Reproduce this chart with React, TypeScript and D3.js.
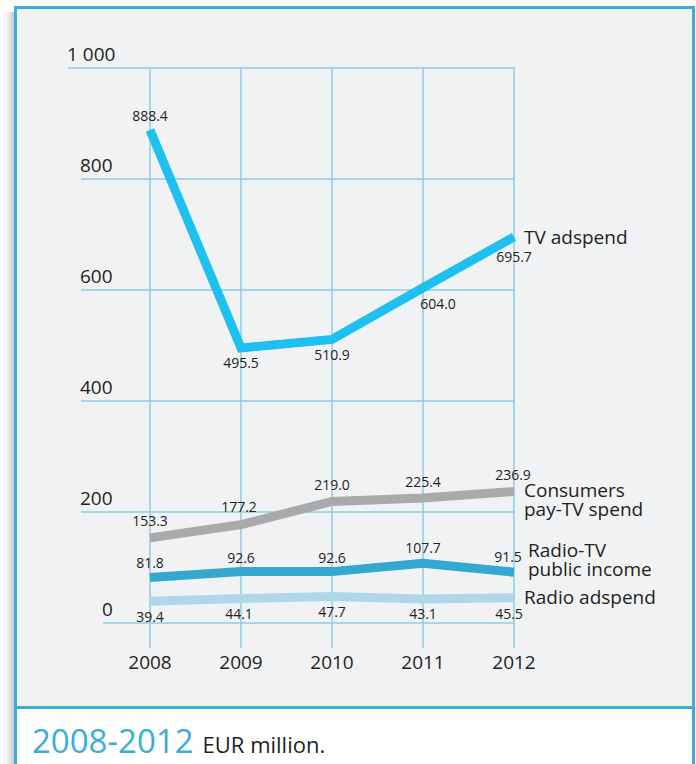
import React from "react";
import * as d3 from "d3";

const years = ["2008", "2009", "2010", "2011", "2012"];
const tvAdspend = [888.4, 495.5, 510.9, 604.0, 695.7];
const payTvSpend = [153.3, 177.2, 219.0, 225.4, 236.9];
const publicIncome = [81.8, 92.6, 92.6, 107.7, 91.5];
const radioAdspend = [39.4, 44.1, 47.7, 43.1, 45.5];
const yTicks = [0, 200, 400, 600, 800, 1000];
const yTickLabels = ["0", "200", "400", "600", "800", "1 000"];

// label offsets (dx, dy) relative to each point — styling only
const tvOffsets = [[0, -9], [0, 20], [0, 21], [15, 21], [0, 25]];
const payOffsets = [[0, -12], [-2, -13], [0, -11], [0, -11], [-1, -12]];
const pubOffsets = [[0, -10], [0, -9], [0, -9], [0, -10], [-6, -10]];
const radOffsets = [[0, 21], [-2, 20], [0, 20], [0, 20], [-5, 21]];

const FONT = "'Open Sans', sans-serif";
const TEXT = "#231f20";
const GRID = "#8fcbe3";
const BORDER = "#3aaed6";

export default function App() {
  const W = 696, H = 764;
  const x = d3.scalePoint<string>().domain(years).range([150, 514]);
  const y = d3.scaleLinear().domain([0, 1000]).range([623, 68]);
  const line = d3.line<number>().x((_, i) => x(years[i])!).y((v) => y(v));

  const series = [
    { name: "radio", values: radioAdspend, color: "#aed8ea", offsets: radOffsets },
    { name: "public", values: publicIncome, color: "#35a8d0", offsets: pubOffsets },
    { name: "pay", values: payTvSpend, color: "#a9aaac", offsets: payOffsets },
    { name: "tv", values: tvAdspend, color: "#1ec0f0", offsets: tvOffsets },
  ];

  // label x start for each tick (grid line starts there too)
  const tickStart = (t: number) => (t === 0 ? 103 : t === 1000 ? 68 : 81);

  const seriesLabels = [
    { lines: ["TV adspend"], x: 524, y: 244 },
    { lines: ["Consumers", "pay-TV spend"], x: 524, y: 497 },
    { lines: ["Radio-TV", "public income"], x: 528, y: 557 },
    { lines: ["Radio adspend"], x: 524, y: 604 },
  ];

  return (
    <svg width={W} height={H} style={{ position: "absolute", left: 0, top: 0 }}>
      <defs>
        <linearGradient id="shadow" x1="0" x2="1" y1="0" y2="0">
          <stop offset="0" stopColor="#ffffff" stopOpacity={0} />
          <stop offset="1" stopColor="#b9b9b9" stopOpacity={0.9} />
        </linearGradient>
      </defs>
      <rect x={0} y={0} width={W} height={H} fill="#ffffff" />
      <rect x={0} y={12} width={15} height={H} fill="url(#shadow)" />
      <rect x={15.5} y={7.5} width={678} height={700} fill="#f1f2f4" />
      <rect x={15.5} y={707} width={678} height={80} fill="#ffffff" />
      <line x1={15.5} x2={693.5} y1={707.5} y2={707.5} stroke={BORDER} strokeWidth={3} />
      <rect x={15.5} y={7.5} width={678} height={800} fill="none" stroke={BORDER} strokeWidth={3} />

      {/* grid */}
      {yTicks.map((t, i) => (
        <g key={t}>
          <line x1={tickStart(t)} x2={515} y1={y(t)} y2={y(t)} stroke={GRID} strokeWidth={1.5} />
          <text x={tickStart(t) - 1} y={y(t) - 7} fontFamily={FONT} fontSize={19} fill={TEXT}>
            {yTickLabels[i]}
          </text>
        </g>
      ))}
      {years.map((yr) => (
        <g key={yr}>
          <line x1={x(yr)} x2={x(yr)} y1={y(1000)} y2={648} stroke={GRID} strokeWidth={1.5} />
          <text x={x(yr)} y={669} textAnchor="middle" fontFamily={FONT} fontSize={19} fill={TEXT}>
            {yr}
          </text>
        </g>
      ))}

      {/* lines */}
      {series.map((s) => (
        <path
          key={s.name}
          d={line(s.values) || ""}
          fill="none"
          stroke={s.color}
          strokeWidth={9}
          strokeLinejoin="miter"
          strokeLinecap="butt"
        />
      ))}

      {/* value labels */}
      {series.map((s) =>
        s.values.map((v, i) => (
          <text
            key={s.name + i}
            x={x(years[i])! + s.offsets[i][0]}
            y={y(v) + s.offsets[i][1]}
            textAnchor="middle"
            fontFamily={FONT}
            fontSize={14}
            fill={TEXT}
          >
            {v.toFixed(1)}
          </text>
        ))
      )}

      {/* series labels */}
      {seriesLabels.map((l, i) => (
        <text key={i} x={l.x} y={l.y} fontFamily={FONT} fontSize={19} fill={TEXT}>
          {l.lines.map((ln, j) => (
            <tspan key={j} x={l.x} dy={j === 0 ? 0 : 19}>
              {ln}
            </tspan>
          ))}
        </text>
      ))}

      {/* caption */}
      <text x={32} y={753} fontFamily={FONT} fill={TEXT}>
        <tspan fontSize={33} fill={BORDER}>2008-2012</tspan>
        <tspan fontSize={22} dx={9}>EUR million.</tspan>
      </text>
    </svg>
  );
}
